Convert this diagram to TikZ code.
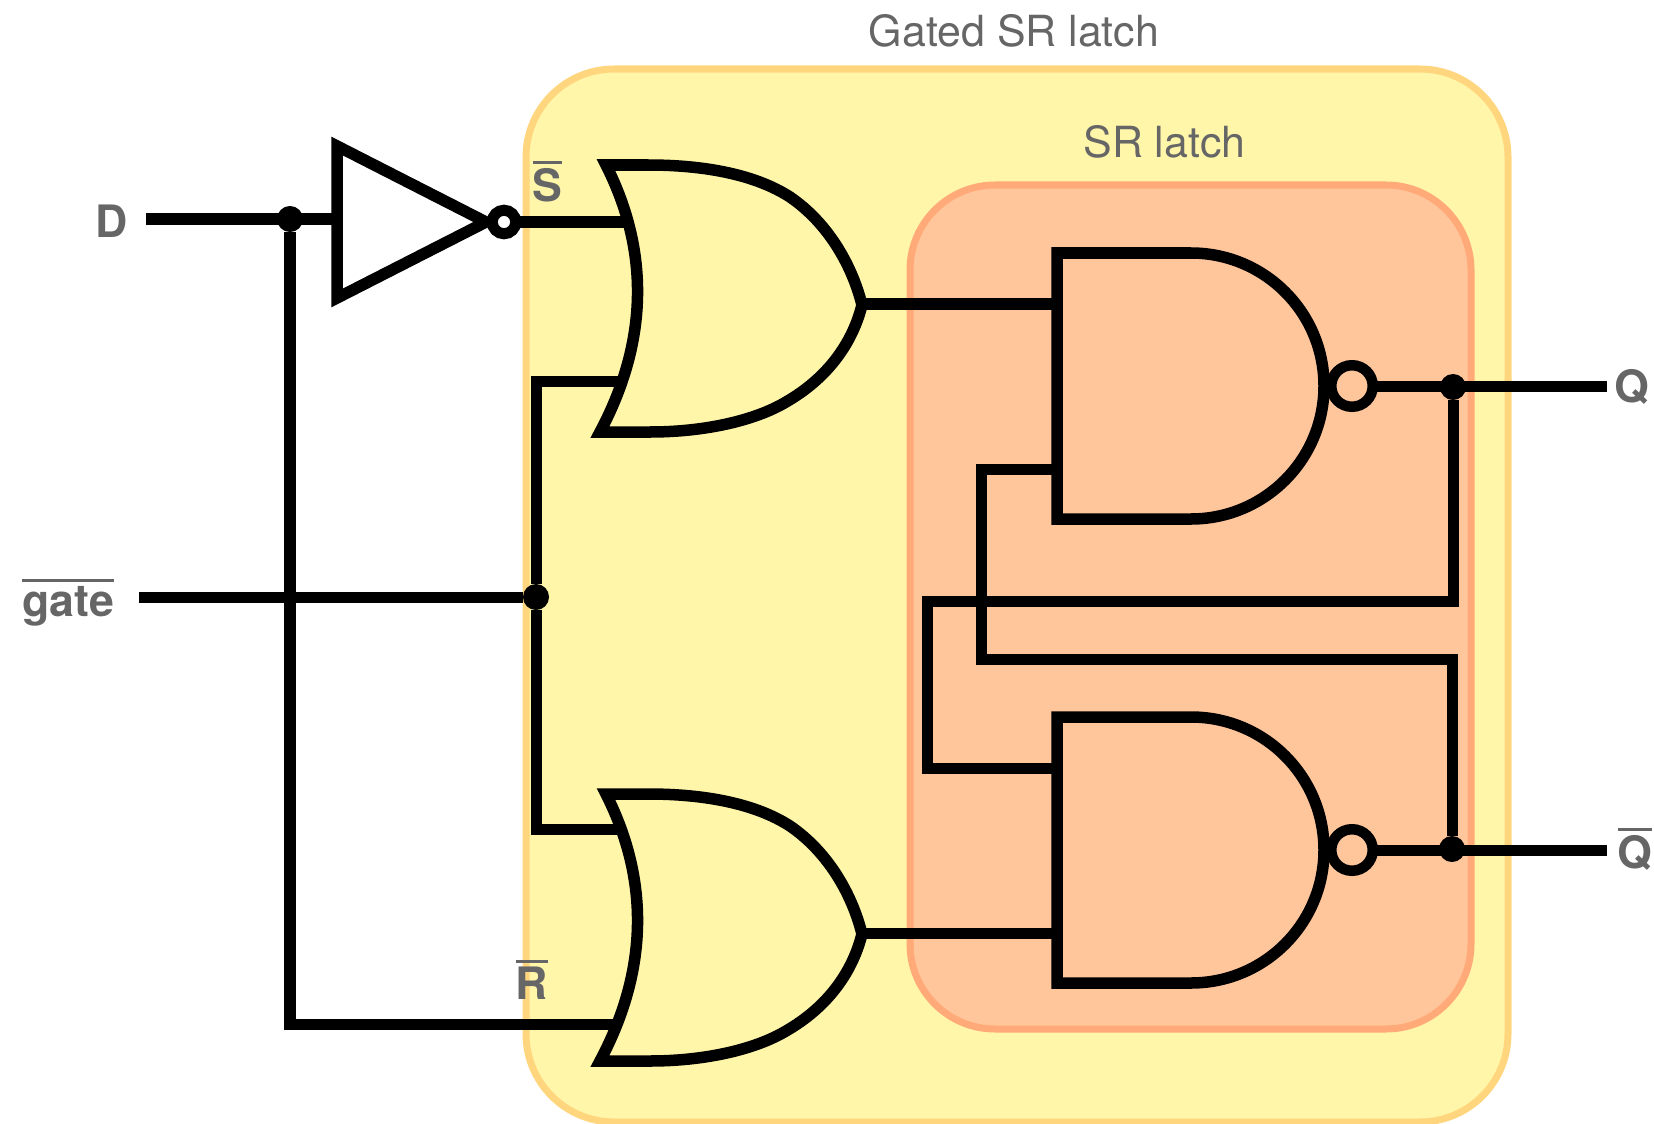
\documentclass[tikz,border=0pt]{standalone}
\usepackage{fontspec}
\setmainfont{TeX Gyre Heros}
\definecolor{gatedfill}{HTML}{FFF6AA}
\definecolor{gatedline}{HTML}{FFD67E}
\definecolor{srfill}{HTML}{FFC69C}
\definecolor{srline}{HTML}{FFAA78}
\definecolor{labelgray}{HTML}{666666}
\tikzset{
	wire/.style={line width=1.1mm},
	gateline/.style={line width=1.15mm},
	junction/.style={circle,fill=black,inner sep=0,outer sep=0,minimum size=2.6mm},
	bubble/.style={circle,draw=black,line width=1.05mm,inner sep=0,outer sep=0},
	boxlabel/.style={text=labelgray,inner sep=0,anchor=base,font=\fontsize{12.2}{14}\selectfont},
	pinlabel/.style={text=labelgray,inner sep=0,anchor=base,font=\bfseries\fontsize{12.7}{14}\selectfont}
}
\def\invbar#1{\vbox{\hrule height 0.75pt\kern 1.1pt\hbox{#1}}}
\def\orgate#1(#2,#3){
	\begin{scope}[shift={(#2,#3)}]
		\draw[gateline,fill=gatedfill] (0,0) -- (42,0) .. controls (100,0) and (150,10) .. (184,32) .. controls (222,58) and (246,100) .. (256,140) .. controls (246,180) and (220,214) .. (180,237) .. controls (150,255) and (100,267) .. (44,267) -- (-6,267) .. controls (43,175) and (43,85) .. (0,0) -- cycle;
		\coordinate (#1out) at (256,139);
	\end{scope}
}
\def\nandgate#1(#2,#3){
	\begin{scope}[shift={(#2,#3)}]
		\draw[gateline,fill=srfill] (0,0) -- (134,0) .. controls (207.5,0) and (267,59.5) .. (267,133) .. controls (267,206.5) and (207.5,266) .. (134,266) -- (0,266) -- cycle;
		\node[bubble,fill=srfill,minimum size=4.15mm] (#1bub) at (295,133) {};
		\coordinate (#1a) at (0,51);
		\coordinate (#1b) at (0,216);
	\end{scope}
}

\begin{document}
\begin{tikzpicture}[x=0.01cm,y=-0.01cm]
	\useasboundingbox (0,0) rectangle (1654,1124);

	\draw[line width=0.7mm,draw=gatedline,fill=gatedfill,rounded corners=0.88cm] (526,69) rectangle (1508,1122);
	\draw[line width=0.7mm,draw=srline,fill=srfill,rounded corners=0.85cm] (910,185) rectangle (1471,1029);
	\node[boxlabel] (gatedtitle) at (1014,46) {Gated SR latch};
	\node[boxlabel] (srtitle) at (1164.5,157) {SR latch};

	\coordinate (ind) at (146,219);
	\coordinate (invin) at (337,219);
	\coordinate (ingate) at (139,597);
	\coordinate (outq) at (1607,386);
	\coordinate (outqbar) at (1607,850);
	\coordinate (crossq) at (927.5,601);
	\coordinate (crossqbar) at (981.5,659);
	\coordinate (sina) at (626,222);
	\coordinate (sinb) at (623,381);
	\coordinate (rina) at (626,829);
	\coordinate (rinb) at (623,1024);

	\node[junction] (dotd) at (290,219) {};
	\node[junction] (dotgate) at (536,597) {};
	\node[junction] (dotq) at (1453,387) {};
	\node[junction] (dotqbar) at (1452,849) {};

	\draw[wire] (ind) -- (invin);
	\draw[wire] (ingate) -- (dotgate);
	\draw[wire] (sinb) -| (dotgate) |- (rina);
	\draw[wire] (dotd) |- (rinb);

	\draw[gateline,fill=white] (337,146) -- (486,222) -- (337,298) -- cycle;
	\node[bubble,line width=1.1mm,fill=white,minimum size=2.35mm] (invbub) at (504,222) {};
	\draw[wire] (invbub) -- (sina);

	\orgate{sgate}(606,165)
	\orgate{rgate}(606,794)

	\nandgate{qgate}(1057,253)
	\nandgate{qbargate}(1057,717)

	\draw[wire] (sgateout) -- (qgatea);
	\draw[wire] (rgateout) -- (qbargateb);
	\draw[wire] (qgatebub) -- (outq);
	\draw[wire] (qbargatebub) -- (outqbar);
	\draw[wire] (dotq) |- (crossq) |- (qbargatea);
	\draw[wire] (dotqbar) |- (crossqbar) |- (qgateb);

	\node[pinlabel] (labeld) at (112,237) {D};
	\node[pinlabel] (labelgate) at (68,616) {\invbar{gate}};
	\node[pinlabel] (labels) at (547.5,201) {\invbar{S}};
	\node[pinlabel] (labelr) at (532,999) {\invbar{R}};
	\node[pinlabel] (labelq) at (1632,402) {Q};
	\node[pinlabel] (labelqbar) at (1635,868) {\invbar{Q}};
\end{tikzpicture}
\end{document}
